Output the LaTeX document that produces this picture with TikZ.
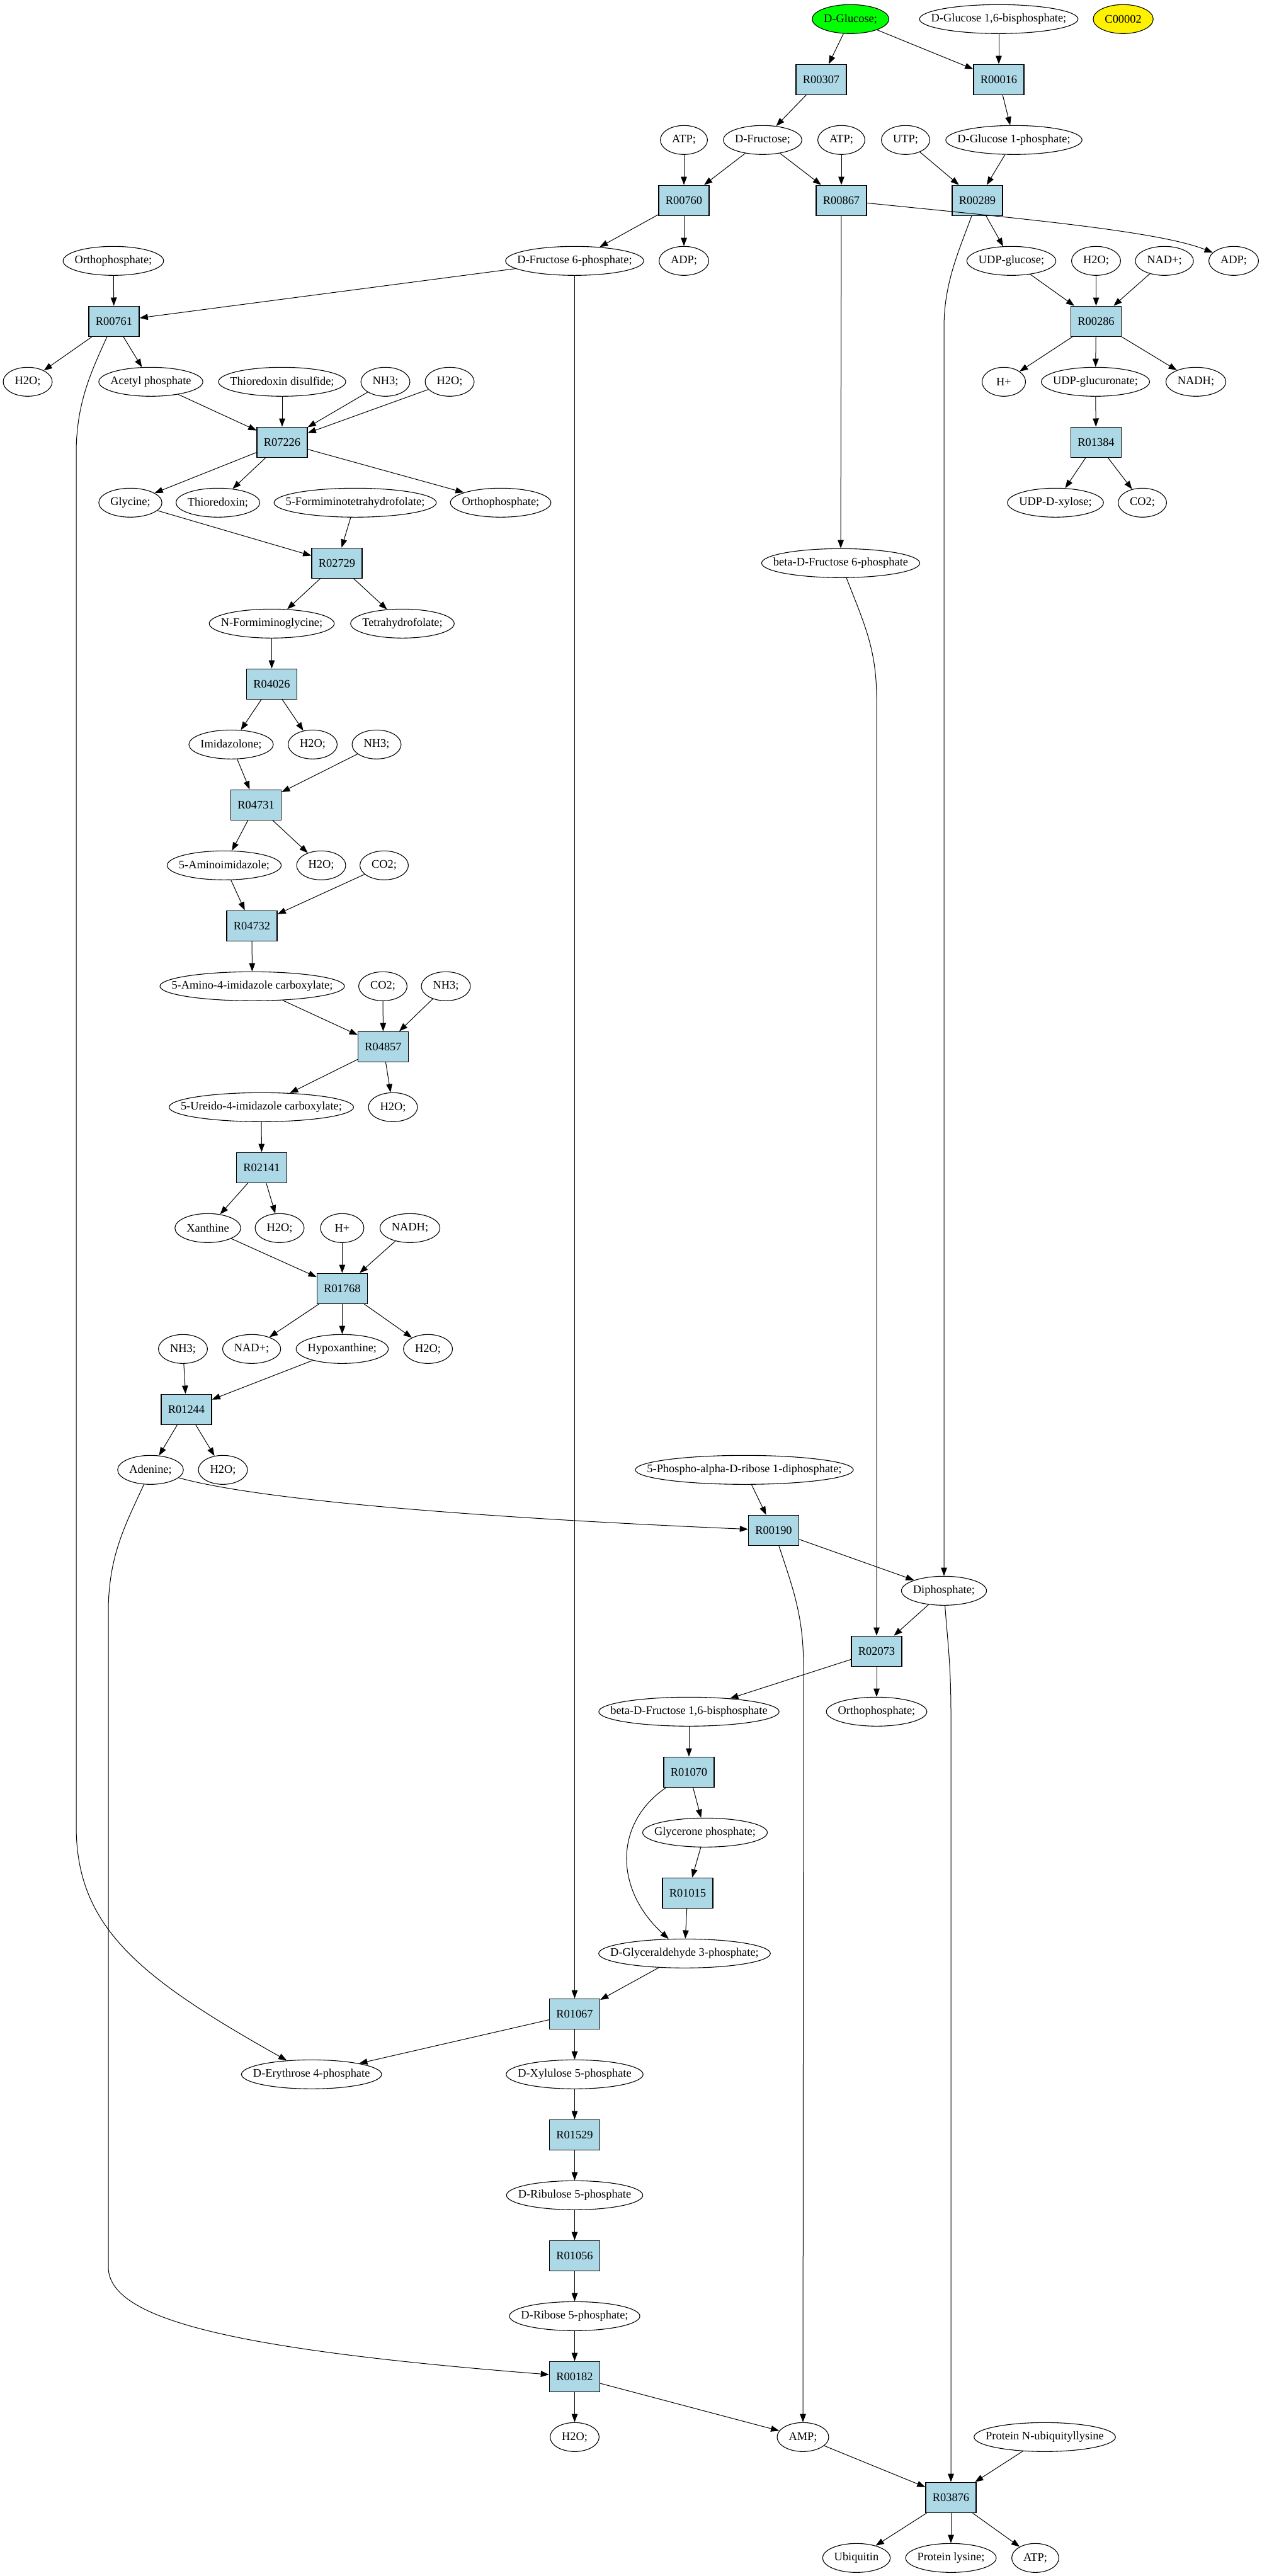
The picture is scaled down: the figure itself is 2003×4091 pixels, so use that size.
\documentclass[tikz,border=0pt]{standalone}
\usepackage{fontspec}
\setmainfont{Liberation Serif}
\usetikzlibrary{arrows.meta,shapes.geometric}
\definecolor{lb}{HTML}{ADD8E6}
\newlength\gvw
\newcommand\gvfont{\fontsize{9.2}{11}\selectfont}
\font\gvmeasure="Liberation Serif" at 9.2pt
\tikzset{
  metab/.style={ellipse, draw, line width=0.55pt, minimum height=23pt, inner sep=0pt, font=\gvfont},
  reac/.style={rectangle, draw, fill=lb, line width=0.6pt, minimum width=40pt, minimum height=24pt, inner sep=0pt, font=\gvfont},
  edge/.style={-{Triangle[length=6.6pt,width=4.8pt]}, line width=0.5pt},
}
\newcommand\met[5][]{%
  \setbox0=\hbox{\gvmeasure #5}\gvw=\wd0 \addtolength\gvw{18.5pt}%
  \ifdim\gvw<34.5pt \gvw=34.5pt \fi
  \node[metab,minimum width=\gvw,#1] (#2) at (#3,#4) {\makebox[0pt]{#5}};}
\newcommand\rxn[4]{\node[reac] (#1) at (#2,#3) {#4};}
\begin{document}
\begin{tikzpicture}[x=0.5pt,y=-0.5pt]
\useasboundingbox (0,0) rectangle (2003,4091);
% row 0
\met[fill=green]{glc}{1350.6}{30.3}{D-Glucose;}
\met{g16bp}{1586}{30.3}{D-Glucose 1,6-bisphosphate;}
\met[fill=yellow]{c2}{1783.6}{30.3}{C00002}
% row 1
\rxn{r307}{1304}{126.3}{R00307}
\rxn{r016}{1586}{126.3}{R00016}
% row 2
\met{atp1}{1086}{222.3}{ATP;}
\met{fru}{1211}{222.3}{D-Fructose;}
\met{atp2}{1336}{222.3}{ATP;}
\met{utp}{1438}{222.3}{UTP;}
\met{g1p}{1610}{222.3}{D-Glucose 1-phosphate;}
% row 3
\rxn{r760}{1086}{318.3}{R00760}
\rxn{r867}{1336}{318.3}{R00867}
\rxn{r289}{1552}{318.3}{R00289}
% row 4
\met{pi1}{180}{414.3}{Orthophosphate;}
\met{f6p}{912.5}{414.3}{D-Fructose 6-phosphate;}
\met{adp1}{1086}{414.3}{ADP;}
\met{udpg}{1606}{414.3}{UDP-glucose;}
\met{h2o1}{1740.5}{414.3}{H2O;}
\met{nad1}{1849}{414.3}{NAD+;}
\met{adp2}{1959}{414.3}{ADP;}
% row 5
\rxn{r761}{181}{510.3}{R00761}
\rxn{r286}{1740.5}{510.3}{R00286}
% row 6
\met{h2o2}{44}{606.3}{H2O;}
\met{acp}{239.5}{606.3}{Acetyl phosphate}
\met{trxs}{448}{606.3}{Thioredoxin disulfide;}
\met{nh31}{612}{606.3}{NH3;}
\met{h2o3}{714}{606.3}{H2O;}
\met{hp1}{1594}{606.3}{H+}
\met{udpga}{1739.5}{606.3}{UDP-glucuronate;}
\met{nadh1}{1899}{606.3}{NADH;}
% row 7
\rxn{r7226}{448}{702.3}{R07226}
\rxn{r1384}{1740.5}{702.3}{R01384}
% row 8
\met{gly}{207}{798.3}{Glycine;}
\met{trx}{346}{798.3}{Thioredoxin;}
\met{fthf}{564}{798.3}{5-Formiminotetrahydrofolate;}
\met{pi2}{795}{798.3}{Orthophosphate;}
\met{udpx}{1676}{798.3}{UDP-D-xylose;}
\met{co21}{1814}{798.3}{CO2;}
% row 9
\rxn{r2729}{535}{894.3}{R02729}
\met{bf6p}{1335}{894.3}{beta-D-Fructose 6-phosphate}
% row 10
\met{nfg}{431.5}{990.3}{N-Formiminoglycine;}
\met{thf}{639}{990.3}{Tetrahydrofolate;}
% row 11
\rxn{r4026}{431.5}{1086.3}{R04026}
% row 12
\met{imz}{367}{1182.3}{Imidazolone;}
\met{h2o4}{496.5}{1182.3}{H2O;}
\met{nh32}{598}{1182.3}{NH3;}
% row 13
\rxn{r4731}{406.6}{1278.3}{R04731}
% row 14
\met{aim}{356}{1374.3}{5-Aminoimidazole;}
\met{h2o5}{510}{1374.3}{H2O;}
\met{co22}{610}{1374.3}{CO2;}
% row 15
\rxn{r4732}{400}{1470.3}{R04732}
% row 16
\met{aic}{400.5}{1566.3}{5-Amino-4-imidazole carboxylate;}
\met{co23}{608}{1566.3}{CO2;}
\met{nh33}{708}{1566.3}{NH3;}
% row 17
\rxn{r4857}{608.5}{1662.3}{R04857}
% row 18
\met{uic}{415}{1758.3}{5-Ureido-4-imidazole carboxylate;}
\met{h2o6}{624}{1758.3}{H2O;}
% row 19
\rxn{r2141}{415.5}{1854.3}{R02141}
% row 20
\met{xan}{330}{1950.3}{Xanthine}
\met{h2o7}{444}{1950.3}{H2O;}
\met{hp2}{543.4}{1950.3}{H+}
\met{nadh2}{651}{1950.3}{NADH;}
% row 21
\rxn{r1768}{543.4}{2046.3}{R01768}
% row 22
\met{nh34}{290.5}{2142.3}{NH3;}
\met{nad2}{399.6}{2142.3}{NAD+;}
\met{hyp}{543.4}{2142.3}{Hypoxanthine;}
\met{h2o8}{679.6}{2142.3}{H2O;}
% row 23
\rxn{r1244}{296}{2238.3}{R01244}
% row 24
\met{ade}{239}{2334.3}{Adenine;}
\met{h2o9}{354}{2334.3}{H2O;}
\met{prpp}{1182}{2334.3}{5-Phospho-alpha-D-ribose 1-diphosphate;}
% row 25
\rxn{r190}{1228.5}{2430.3}{R00190}
% row 26
\met{ppi}{1499}{2526.3}{Diphosphate;}
% row 27
\rxn{r2073}{1392}{2622.3}{R02073}
% row 28
\met{fbp}{1094}{2718.3}{beta-D-Fructose 1,6-bisphosphate}
\met{pi3}{1392}{2718.3}{Orthophosphate;}
% row 29
\rxn{r1070}{1094}{2814.3}{R01070}
% row 30
\met{dhap}{1119.5}{2910.3}{Glycerone phosphate;}
% row 31
\rxn{r1015}{1092}{3006.3}{R01015}
% row 32
\met{gap}{1087}{3102.3}{D-Glyceraldehyde 3-phosphate;}
% row 33
\rxn{r1067}{912.5}{3198.3}{R01067}
% row 34
\met{e4p}{494.7}{3294.3}{D-Erythrose 4-phosphate}
\met{xu5p}{912.5}{3294.3}{D-Xylulose 5-phosphate}
% row 35
\rxn{r1529}{912.5}{3390.3}{R01529}
% row 36
\met{ru5p}{912.5}{3486.3}{D-Ribulose 5-phosphate}
% row 37
\rxn{r1056}{912.5}{3582.3}{R01056}
% row 38
\met{r5p}{912.5}{3678.3}{D-Ribose 5-phosphate;}
% row 39
\rxn{r182}{912.5}{3774.3}{R00182}
% row 40
\met{h2o10}{912.5}{3870.3}{H2O;}
\met{amp}{1275}{3870.3}{AMP;}
\met{pnub}{1659}{3870.3}{Protein N-ubiquityllysine}
% row 41
\rxn{r3876}{1510}{3966.3}{R03876}
% row 42
\met{ubq}{1360}{4062.3}{Ubiquitin}
\met{plys}{1510}{4062.3}{Protein lysine;}
\met{atp3}{1644}{4062.3}{ATP;}

% straight edges
\foreach \a/\b in {glc/r307, glc/r016, g16bp/r016, r307/fru, r016/g1p,
  atp1/r760, fru/r760, fru/r867, atp2/r867, utp/r289, g1p/r289,
  r760/f6p, r760/adp1, r289/udpg, r867/bf6p,
  pi1/r761, f6p/r761, f6p/r1067,
  udpg/r286, h2o1/r286, nad1/r286,
  r761/h2o2, r761/acp,
  r286/hp1, r286/udpga, r286/nadh1,
  acp/r7226, trxs/r7226, nh31/r7226, h2o3/r7226,
  udpga/r1384,
  r7226/gly, r7226/trx, r7226/pi2,
  r1384/udpx, r1384/co21,
  gly/r2729, fthf/r2729,
  r2729/nfg, r2729/thf,
  nfg/r4026,
  r4026/imz, r4026/h2o4,
  imz/r4731, nh32/r4731,
  r4731/aim, r4731/h2o5,
  aim/r4732, co22/r4732,
  r4732/aic,
  aic/r4857, co23/r4857, nh33/r4857,
  r4857/uic, r4857/h2o6,
  uic/r2141,
  r2141/xan, r2141/h2o7,
  xan/r1768, hp2/r1768, nadh2/r1768,
  r1768/nad2, r1768/hyp, r1768/h2o8,
  nh34/r1244, hyp/r1244,
  r1244/ade, r1244/h2o9,
  prpp/r190, r190/ppi, ppi/r2073,
  r2073/fbp, r2073/pi3,
  fbp/r1070, r1070/dhap, dhap/r1015, r1015/gap,
  gap/r1067, r1067/e4p, r1067/xu5p,
  xu5p/r1529, r1529/ru5p, ru5p/r1056, r1056/r5p, r5p/r182,
  r182/h2o10, r182/amp,
  amp/r3876, pnub/r3876,
  r3876/ubq, r3876/plys, r3876/atp3}
  \draw[edge] (\a) -- (\b);

% curved / long edges
\draw[edge] (r867) .. controls (1620,347) and (1840,367) .. (adp2);
\draw[edge] (r289) .. controls (1522,400) and (1499,450) .. (1499,520) -- (ppi);
\draw[edge] (r761) .. controls (145,590) and (121,640) .. (121,720) -- (121,2900) .. controls (121,3060) and (220,3140) .. (e4p);
\draw[edge] (ade) .. controls (420,2385) and (800,2412) .. (r190);
\draw[edge] (ade) .. controls (200,2420) and (172,2470) .. (172,2560) -- (172,3600) .. controls (172,3680) and (350,3730) .. (r182);
\draw[edge] (r190) .. controls (1262,2530) and (1276,2570) .. (1276,2650) -- (amp);
\draw[edge] (bf6p) .. controls (1372,990) and (1392,1030) .. (1392,1110) -- (r2073);
\draw[edge] (ppi) .. controls (1504,2600) and (1510,2640) .. (1510,2720) -- (r3876);
\draw[edge] (r1070) .. controls (975,2895) and (975,3000) .. (gap);
\end{tikzpicture}
\end{document}
